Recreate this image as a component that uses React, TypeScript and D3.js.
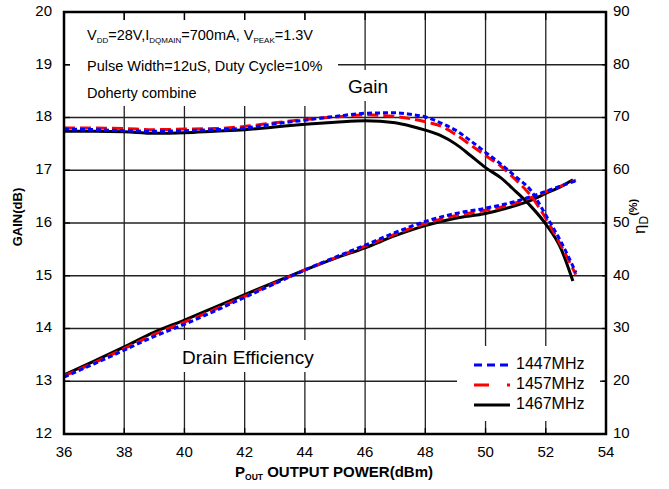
import * as d3 from "d3";

// output power (dBm) for each frequency
const power1447 = [36, 37, 38, 39, 40, 41, 42, 43, 44, 45, 46, 47, 47.5, 48, 48.5, 49, 49.5, 50, 50.5, 51, 51.5, 52, 52.5, 53];
const gain1447 = [17.78, 17.77, 17.75, 17.74, 17.75, 17.77, 17.8, 17.88, 17.95, 18.02, 18.08, 18.09, 18.06, 18.01, 17.9, 17.76, 17.56, 17.34, 17.12, 16.88, 16.62, 16.15, 15.65, 15.06];
const power1457 = [36, 37, 38, 39, 40, 41, 42, 43, 44, 45, 46, 47, 47.5, 48, 48.5, 49, 49.5, 50, 50.5, 51, 51.5, 52, 52.5, 53];
const gain1457 = [17.8, 17.8, 17.79, 17.77, 17.78, 17.79, 17.83, 17.9, 17.96, 18.01, 18.05, 18.02, 17.98, 17.92, 17.84, 17.68, 17.48, 17.28, 17.08, 16.82, 16.52, 16.09, 15.58, 15.02];
const power1467 = [36, 37, 38, 39, 40, 41, 42, 43, 44, 45, 46, 47, 47.5, 48, 48.5, 49, 49.5, 50, 50.5, 51, 51.5, 52, 52.5, 52.9];
const gain1467 = [17.74, 17.74, 17.73, 17.7, 17.71, 17.74, 17.77, 17.82, 17.87, 17.91, 17.94, 17.9, 17.84, 17.76, 17.66, 17.5, 17.28, 17.05, 16.86, 16.6, 16.32, 15.98, 15.52, 14.9];

const effPower = [36, 37, 38, 39, 40, 41, 42, 43, 44, 45, 46, 47, 48, 49, 50, 50.5, 51, 51.5, 52, 52.5, 53];
const eff1447 = [20.8, 23.3, 25.9, 28.5, 30.8, 33.3, 35.9, 38.5, 41.1, 43.5, 45.8, 48.2, 50.3, 51.8, 52.8, 53.4, 54.1, 55.0, 56.0, 57.0, 58.0];
const eff1457 = [21.0, 23.5, 26.2, 28.9, 31.2, 33.6, 36.1, 38.6, 41.1, 43.4, 45.6, 47.9, 49.9, 51.4, 52.4, 53.0, 53.8, 54.8, 55.9, 57.0, 58.1];
const effPower1467 = [36, 37, 38, 39, 40, 41, 42, 43, 44, 45, 46, 47, 48, 49, 50, 50.5, 51, 51.5, 52, 52.5, 52.9];
const eff1467 = [21.2, 23.8, 26.5, 29.3, 31.6, 34.0, 36.4, 38.8, 41.1, 43.3, 45.3, 47.6, 49.5, 50.9, 51.8, 52.5, 53.3, 54.3, 55.6, 56.9, 58.2];

const xTicks = [36, 38, 40, 42, 44, 46, 48, 50, 52, 54];
const gainTicks = [12, 13, 14, 15, 16, 17, 18, 19, 20];
const effTicks = [10, 20, 30, 40, 50, 60, 70, 80, 90];

const freqs = ["1447MHz", "1457MHz", "1467MHz"];

const FONT = "Arial, 'Liberation Sans', sans-serif";

export default function App() {
  const margin = { left: 64, right: 63, top: 12, bottom: 55 };
  const W = 669;
  const H = 489;
  const x = d3.scaleLinear().domain([36, 54]).range([margin.left, W - margin.right]);
  const yG = d3.scaleLinear().domain([12, 20]).range([H - margin.bottom, margin.top]);
  const yE = d3.scaleLinear().domain([10, 90]).range([H - margin.bottom, margin.top]);

  const gainLine = d3.line<[number, number]>().x(d => x(d[0])).y(d => yG(d[1])).curve(d3.curveMonotoneX);
  const effLine = d3.line<[number, number]>().x(d => x(d[0])).y(d => yE(d[1])).curve(d3.curveMonotoneX);
  const zip = (a: number[], b: number[]) => a.map((v, i) => [v, b[i]] as [number, number]);

  const styles = [
    { color: "#0000ff", dash: "5,3" },
    { color: "#ff0000", dash: "11,5" },
    { color: "#000000", dash: "none" },
  ];
  const gains = [zip(power1447, gain1447), zip(power1457, gain1457), zip(power1467, gain1467)];
  const effs = [zip(effPower, eff1447), zip(effPower, eff1457), zip(effPower1467, eff1467)];

  const x0 = x(36), x1 = x(54), y0 = yG(12), y1 = yG(20);
  const tick = 6;

  // white boxes behind text that hide the grid
  const masks = [
    { x: 70, y: 20, w: 268, h: 86 },
    { x: 343, y: 70, w: 52, h: 31 },
    { x: 178, y: 340, w: 148, h: 32 },
    { x: 457, y: 346, w: 143, h: 75 },
  ];

  return (
    <svg width={W} height={H} style={{ position: "absolute", left: 0, top: 0, background: "#fff" }} fontFamily={FONT}>
      <rect width={W} height={H} fill="#fff" />
      {/* grid */}
      {xTicks.map(t => (
        <line key={"gx" + t} x1={x(t)} x2={x(t)} y1={y0} y2={y1} stroke="#222" strokeWidth={1.3} />
      ))}
      {gainTicks.map(t => (
        <line key={"gy" + t} x1={x0} x2={x1} y1={yG(t)} y2={yG(t)} stroke="#222" strokeWidth={1.3} />
      ))}
      {masks.map((m, i) => (
        <rect key={"m" + i} x={m.x} y={m.y} width={m.w} height={m.h} fill="#fff" />
      ))}
      {/* inward ticks */}
      {xTicks.map(t => (
        <g key={"tx" + t}>
          <line x1={x(t)} x2={x(t)} y1={y0} y2={y0 - tick} stroke="#000" strokeWidth={1.3} />
          <line x1={x(t)} x2={x(t)} y1={y1} y2={y1 + tick + 2} stroke="#000" strokeWidth={1.3} />
        </g>
      ))}
      {gainTicks.map(t => (
        <line key={"ty" + t} x1={x0} x2={x0 + tick} y1={yG(t)} y2={yG(t)} stroke="#000" strokeWidth={1.3} />
      ))}
      {effTicks.map(t => (
        <line key={"te" + t} x1={x1} x2={x1 - 4} y1={yE(t)} y2={yE(t)} stroke="#000" strokeWidth={1.3} />
      ))}
      {/* curves */}
      {[2, 1, 0].map(i => (
        <g key={"c" + i}>
          <path d={effLine(effs[i]) || ""} fill="none" stroke={styles[i].color} strokeWidth={3} strokeDasharray={styles[i].dash} />
          <path d={gainLine(gains[i]) || ""} fill="none" stroke={styles[i].color} strokeWidth={3} strokeDasharray={styles[i].dash} />
        </g>
      ))}
      {/* frame */}
      <rect x={x0} y={y1} width={x1 - x0} height={y0 - y1} fill="none" stroke="#000" strokeWidth={2.5} />
      {/* tick labels */}
      {xTicks.map(t => (
        <text key={"lx" + t} x={x(t)} y={y0 + 19} fontSize={15} textAnchor="middle" dominantBaseline="middle">{t}</text>
      ))}
      {gainTicks.map(t => (
        <text key={"lg" + t} x={x0 - 12} y={yG(t)} fontSize={15} textAnchor="end" dominantBaseline="middle">{t}</text>
      ))}
      {effTicks.map(t => (
        <text key={"le" + t} x={x1 + 7} y={yE(t)} fontSize={15} textAnchor="start" dominantBaseline="middle">{t}</text>
      ))}
      {/* axis titles */}
      <text transform={`translate(19,217) rotate(-90)`} fontSize={13} fontWeight="bold" textAnchor="middle" dominantBaseline="middle">GAIN(dB)</text>
      <text x={334} y={477} fontSize={15} fontWeight="bold" textAnchor="middle">
        P<tspan fontSize={8.5} dy={3}>OUT</tspan><tspan dy={-3}> OUTPUT POWER(dBm)</tspan>
      </text>
      <text transform={`translate(645,234) rotate(-90)`} fontSize={17} textAnchor="start">
        η<tspan fontSize={12} dy={3}>D</tspan><tspan fontSize={11} fontWeight="bold" dy={-11}>(%)</tspan>
      </text>
      {/* annotations */}
      <text x={87} y={40} fontSize={14.5}>
        V<tspan fontSize={8} dy={3}>DD</tspan><tspan dy={-3}>=28V,I</tspan><tspan fontSize={8} dy={3}>DQMAIN</tspan><tspan dy={-3}>=700mA, V</tspan><tspan fontSize={8} dy={3}>PEAK</tspan><tspan dy={-3}>=1.3V</tspan>
      </text>
      <text x={87} y={71} fontSize={14.5}>Pulse Width=12uS, Duty Cycle=10%</text>
      <text x={87} y={98} fontSize={14.5}>Doherty combine</text>
      <text x={348} y={93} fontSize={19}>Gain</text>
      <text x={182} y={364} fontSize={19}>Drain Efficiency</text>
      {/* legend */}
      {freqs.map((f, i) => (
        <g key={f}>
          <line x1={474} x2={510} y1={365 + i * 20} y2={365 + i * 20} stroke={styles[i].color} strokeWidth={3} strokeDasharray={i === 0 ? "8,5" : i === 1 ? "15,18,3,20" : "none"} />
          <text x={516} y={365 + i * 20} fontSize={16} dominantBaseline="middle">{f}</text>
        </g>
      ))}
    </svg>
  );
}
